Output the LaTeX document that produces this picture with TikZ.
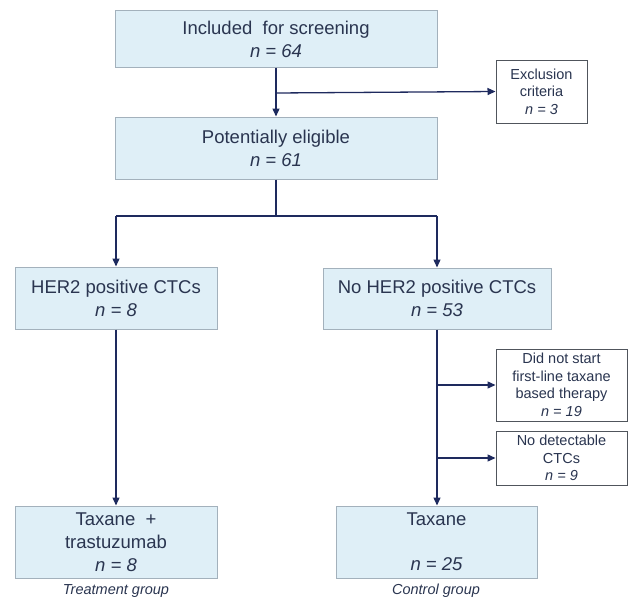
\documentclass[tikz,border=0pt]{standalone}
\usepackage{fontspec}
\setmainfont{Liberation Sans}
\usetikzlibrary{arrows.meta}
\definecolor{boxfill}{HTML}{DFEFF7}
\definecolor{boxdraw}{HTML}{A3B1BC}
\definecolor{arrowc}{HTML}{1E2A5E}
\definecolor{txt}{HTML}{2A3550}
\definecolor{exdraw}{HTML}{50555C}
\begin{document}
\begin{tikzpicture}[x=1pt,y=-1pt,
  bluebox/.style={draw=boxdraw, fill=boxfill, line width=1pt, text=txt, align=center,
    font=\fontsize{18.5}{23}\selectfont, inner sep=0pt},
  whitebox/.style={draw=exdraw, fill=white, line width=1pt, text=txt, align=center,
    font=\fontsize{14.5}{17.5}\selectfont, inner sep=0pt},
  grouplabel/.style={text=txt, font=\fontsize{14.5}{17}\selectfont\itshape, inner sep=0pt},
  conn/.style={draw=arrowc, line width=1.3pt},
  arr/.style={conn, -{Triangle[width=7pt,length=8pt]}}
]
\useasboundingbox (0,0) rectangle (628,602);

\node[bluebox, minimum width=322pt, minimum height=56pt] (top) at (276,39)
  {Included \ for screening\\ \textit{n = 64}};
\node[whitebox, minimum width=91pt, minimum height=63pt] (excl) at (541.5,91.5)
  {Exclusion\\criteria\\\textit{n = 3}};
\node[bluebox, minimum width=322pt, minimum height=62pt] (pe) at (276,148)
  {Potentially eligible\\\textit{n = 61}};
\node[bluebox, minimum width=202pt, minimum height=62pt] (her2) at (116,298)
  {HER2 positive CTCs\\\textit{n = 8}};
\node[bluebox, minimum width=228pt, minimum height=61pt] (noher2) at (437,298.5)
  {No HER2 positive CTCs\\\textit{n = 53}};
\node[whitebox, minimum width=131pt, minimum height=72pt] (dns) at (561.5,385)
  {Did not start\\first-line taxane\\based therapy\\\textit{n = 19}};
\node[whitebox, minimum width=131pt, minimum height=54pt] (nodet) at (561.5,458)
  {No detectable\\CTCs\\\textit{n = 9}};
\node[bluebox, minimum width=202pt, minimum height=72pt] (taxtr) at (116,542)
  {Taxane \ +\\trastuzumab\\\textit{n = 8}};
\node[bluebox, minimum width=201pt, minimum height=72pt] (tax) at (436.5,542)
  {Taxane\\[22pt]\textit{n = 25}};
\node[grouplabel] (treat) at (116,591) {Treatment group};
\node[grouplabel] (ctrl) at (436,591) {Control group};

\coordinate (j1) at (276,93);
\coordinate (j2) at (276,216);
\coordinate (jl) at (116,216);
\coordinate (jr) at (437,216);
\coordinate (b1) at (437,385);
\coordinate (b2) at (437,458);

\draw[arr] (top.south) -- (pe.north);
\draw[arr] (j1) -- (excl.west);
\draw[conn] (pe.south) -- (j2);
\draw[conn] (jl) -- (jr);
\draw[arr] (jl) -- (her2.north);
\draw[arr] (jr) -- (noher2.north);
\draw[arr] (her2.south) -- (taxtr.north);
\draw[arr] (noher2.south) -- (noher2.south |- tax.north);
\draw[arr] (b1) -- (dns.west);
\draw[arr] (b2) -- (nodet.west);
\end{tikzpicture}
\end{document}
